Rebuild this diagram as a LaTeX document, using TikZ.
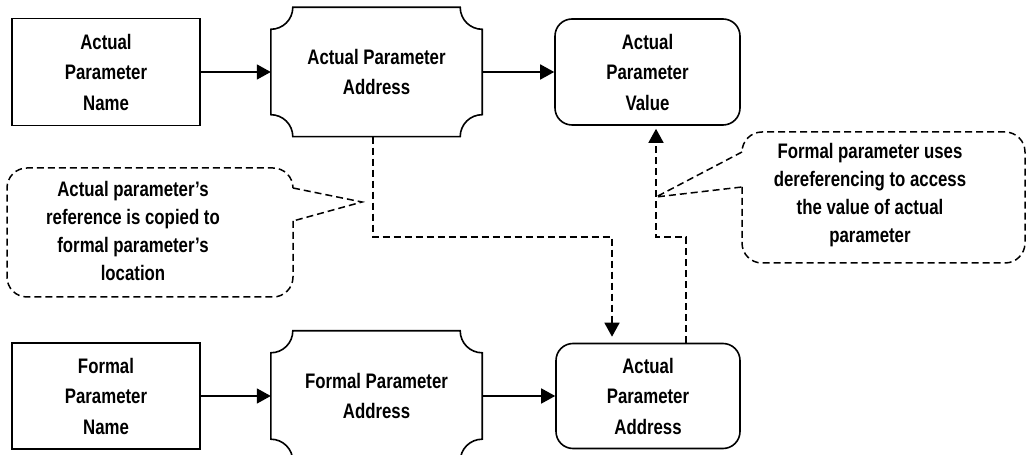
\documentclass[tikz,border=0pt]{standalone}
\usepackage{fontspec}
\setmainfont[FakeStretch=0.8]{Liberation Sans}
\usetikzlibrary{arrows.meta, positioning, calc}

% concave corners round a named node
\newcommand{\scallopbox}[1]{%
  \draw[line width=1.6pt] ([xshift=22pt]#1.north west) -- ([xshift=-22pt]#1.north east)
    arc[start angle=180, end angle=270, radius=22pt] -- ([yshift=22pt]#1.south east)
    arc[start angle=90, end angle=180, radius=22pt] -- ([xshift=22pt]#1.south west)
    arc[start angle=0, end angle=90, radius=22pt] -- ([yshift=-22pt]#1.north west)
    arc[start angle=270, end angle=360, radius=22pt] -- cycle;}

\begin{document}
\begin{tikzpicture}[
  x=1pt, y=1pt,
  every node/.style={font=\fontsize{21pt}{30.5pt}\selectfont\bfseries, align=center, inner sep=0pt},
  plainbox/.style={rectangle, draw, line width=1.6pt},
  roundbox/.style={rectangle, draw, line width=1.6pt, rounded corners=17pt},
  scallop/.style={rectangle},
  notetext/.style={font=\fontsize{21pt}{28pt}\selectfont\bfseries},
  note/.style={line width=1.5pt, dash pattern=on 7pt off 4pt},
  flow/.style={line width=1.6pt, -{Triangle[length=14pt, width=15pt]}},
  link/.style={note, -{Triangle[length=14pt, width=15pt]}},
]
\useasboundingbox (0,0) rectangle (1028,455);

% top row
\node[plainbox, minimum width=188pt, minimum height=107pt] (apname) at (106,383) {Actual\\Parameter\\Name};
\node[scallop, minimum width=211pt, minimum height=129pt] (apaddr) at (376.5,383) {Actual Parameter\\Address};
\node[roundbox, minimum width=185pt, minimum height=106pt] (apval) at (647.5,383) {Actual\\Parameter\\Value};
\scallopbox{apaddr}

% bottom row
\node[plainbox, minimum width=188pt, minimum height=106pt] (fpname) at (106,59) {Formal\\Parameter\\Name};
\node[scallop, minimum width=211pt, minimum height=130pt] (fpaddr) at (376.5,59) {Formal Parameter\\Address};
\node[roundbox, minimum width=184pt, minimum height=105pt] (fpcopy) at (648,59) {Actual\\Parameter\\Address};
\scallopbox{fpaddr}

\draw[flow] (apname.east) -- (apaddr.west);
\draw[flow] (apaddr.east) -- (apval.west);
\draw[flow] (fpname.east) -- (fpaddr.west);
\draw[flow] (fpaddr.east) -- (fpcopy.west);

% dashed links
\coordinate (midrow) at (0,218);
\draw[link, shorten >=6pt] ([xshift=-3.5pt]apaddr.south) -- ([xshift=-3.5pt]apaddr.south |- midrow) -| ([xshift=-36pt]fpcopy.north);
\draw[link, shorten >=3pt] ([xshift=38pt]fpcopy.north) -- ([xshift=38pt]fpcopy.north |- midrow) -| ([xshift=8.5pt]apval.south);

% callouts
\node[notetext] (lnote) at (133,224) {Actual parameter's\\reference is copied to\\formal parameter's\\location};
\draw[note] (293,267) -- (362,253) -- (293,234);
\draw[note, rounded corners=20pt] (293,234) -- (293,158) -- (7,158) -- (7,287) -- (293,287) -- (293,267);

\node[notetext] (rnote) at (870,260) {Formal parameter uses\\dereferencing to access\\the value of actual\\parameter};
\draw[note] (742,303) -- (656,258) -- (742,268);
\draw[note, rounded corners=20pt] (742,268) -- (742,192) -- (1025,192) -- (1025,323) -- (742,323) -- (742,303);

\end{tikzpicture}
\end{document}
